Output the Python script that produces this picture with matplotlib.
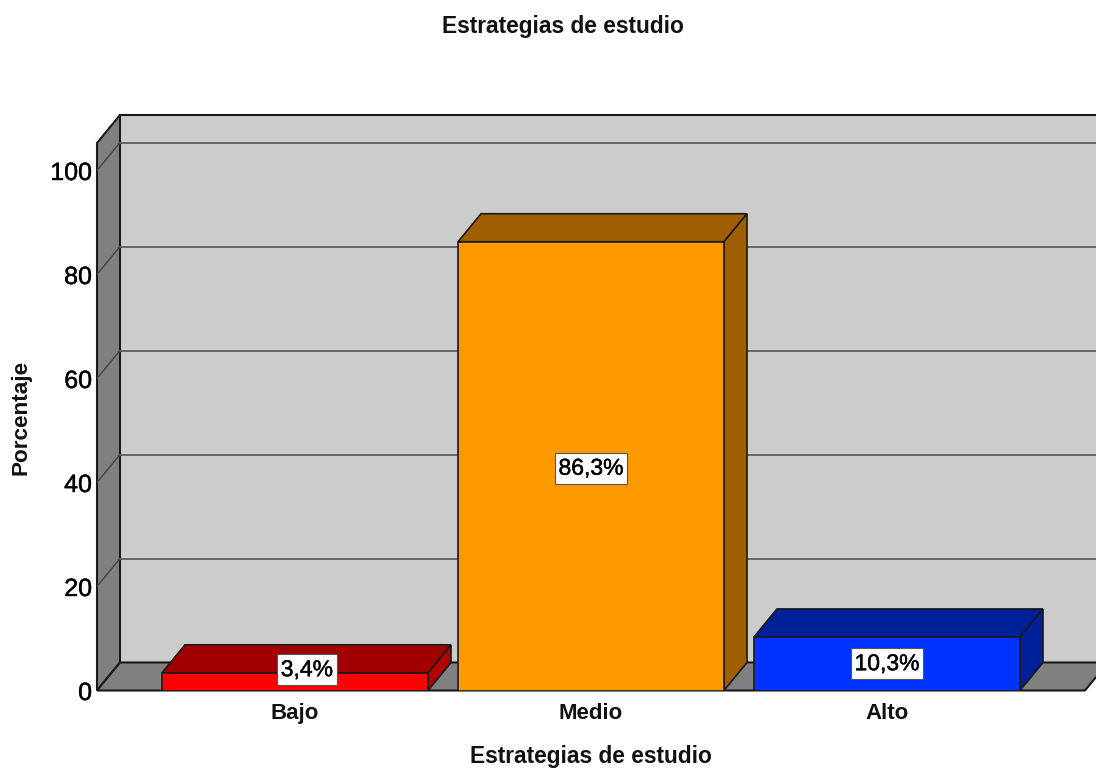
import matplotlib
matplotlib.use("Agg")
import matplotlib.pyplot as plt
import matplotlib.patheffects as pe
from matplotlib.patches import Polygon, Rectangle

plt.rcParams['font.family'] = ['Liberation Sans', 'DejaVu Sans']

categories = ['Bajo', 'Medio', 'Alto']
values = [3.4, 86.3, 10.3]
value_labels = ['3,4%', '86,3%', '10,3%']
front_colors = ['#ff0000', '#ff9900', '#0033ff']
top_colors = ['#a00000', '#9f5f00', '#002099']
side_colors = ['#b00000', '#9f5f00', '#002099']
y_ticks = [0, 20, 40, 60, 80, 100]
title = 'Estrategias de estudio'
xlabel = 'Estrategias de estudio'
ylabel = 'Porcentaje'

W, H = 1096, 770
fig = plt.figure(figsize=(W/100, H/100), dpi=100, facecolor='white')
x0_px, y0_px = 97, 690.5
ax = fig.add_axes([x0_px/W, (H-y0_px)/H, (W-x0_px)/W, (y0_px-115)/H])
px_x = 296.0   # pixels per category
px_y = 5.2     # pixels per percent
ax.set_xlim((x0_px-295)/px_x, (W-295)/px_x)
ax.set_ylim(0, (y0_px-115)/px_y)
dx = 23/px_x
dy = 28/px_y
xl = ax.get_xlim()[0]
xr = ax.get_xlim()[1] + 12/px_x
bw = 266/px_x
ytop = ax.get_ylim()[1]
edge = '#1a1a1a'
thick = [pe.withStroke(linewidth=0.3, foreground='black')]

# walls and floor
ax.add_patch(Polygon([(xl+dx, dy), (xr, dy), (xr, ytop), (xl+dx, ytop)], fc='#cccccc', ec='none', zorder=1))
ax.add_patch(Polygon([(xl, 0), (xl+dx, dy), (xl+dx, ytop), (xl, ytop-dy)], fc='#808080', ec=edge, lw=1.5, zorder=2, clip_on=False))
ax.add_patch(Polygon([(xl, 0), (xr-dx, 0), (xr, dy), (xl+dx, dy)], fc='#808080', ec=edge, lw=1.5, zorder=2, clip_on=False))
ax.plot([xl+dx, ax.get_xlim()[1]], [ytop, ytop], color=edge, lw=1.5, zorder=3, clip_on=False)

# grid lines on the walls
for t in y_ticks[1:]:
    ax.plot([xl+dx, xr], [t+dy, t+dy], color='#666666', lw=1.4, zorder=2)
    ax.plot([xl, xl+dx], [t, t+dy], color='#444444', lw=1.0, zorder=3)

# 3D bars
for i, v in enumerate(values):
    l, r = i-bw/2, i+bw/2
    ax.add_patch(Polygon([(l, v), (r, v), (r+dx, v+dy), (l+dx, v+dy)], fc=top_colors[i], ec=edge, lw=1.2, zorder=5))
    ax.add_patch(Polygon([(r, 0), (r+dx, dy), (r+dx, v+dy), (r, v)], fc=side_colors[i], ec=edge, lw=1.2, zorder=5))
    ax.add_patch(Rectangle((l, 0), bw, v, fc=front_colors[i], ec=edge, lw=1.2, zorder=6))

# value labels
label_y = [4.0, values[1]/2 - 0.4, values[2]/2]
label_x = [0.04, 0, 0]
for i, v in enumerate(values):
    ax.text(i+label_x[i], label_y[i], value_labels[i], ha='center', va='center', fontsize=16.5,
            color='black', zorder=8, path_effects=thick,
            bbox=dict(boxstyle='square,pad=0.17', fc='white', ec='#555555', lw=0.8))

for s in ax.spines.values():
    s.set_visible(False)
ax.patch.set_visible(False)
ax.set_xticks(range(len(categories)))
ax.set_xticklabels(categories, fontsize=16, fontweight='bold', color='#111111')
ax.set_yticks(y_ticks)
ax.set_yticklabels([str(t) for t in y_ticks], fontsize=18, color='black', path_effects=thick)
ax.tick_params(axis='both', length=0)
ax.tick_params(axis='x', pad=9)
ax.tick_params(axis='y', pad=3.5)

fig.text(563/W, 1-26/H, title, ha='center', va='center', fontsize=16.4, fontweight='bold', color='#111111')
fig.text(591/W, 1-757/H, xlabel, ha='center', va='center', fontsize=16.4, fontweight='bold', color='#111111')
fig.text(21/W, 1-417/H, ylabel, ha='center', va='center', rotation=90, fontsize=16.2, fontweight='bold', color='#111111')

fig.savefig('out.png', dpi=100, facecolor='white')
